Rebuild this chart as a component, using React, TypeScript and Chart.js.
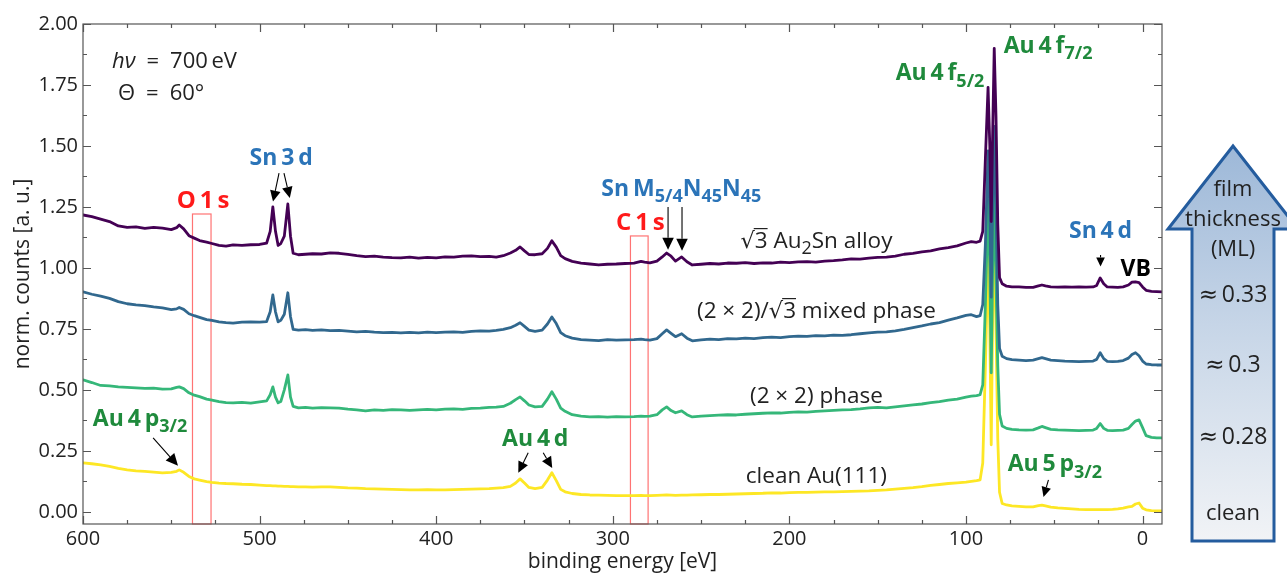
import { useEffect, useRef } from 'react';
import { Chart, registerables } from 'chart.js';

Chart.register(...registerables);

// Binding energy grid (eV), shared by all four spectra
const energies = [
  600, 595, 590, 585, 580, 575, 570, 565, 560, 555,
  550, 547, 545.5, 543, 540, 537, 534, 530, 527, 523,
  519, 515, 510, 505, 500, 496, 494, 492.5, 491, 489.5,
  488, 486, 484, 482.5, 481, 478, 474, 470, 465, 460,
  455, 450, 445, 440, 435, 430, 425, 420, 415, 410,
  405, 400, 395, 390, 385, 380, 375, 370, 366, 362,
  358, 355, 352.5, 350, 347.5, 344, 340, 337, 334.5, 332,
  329.5, 327, 323, 318, 313, 308, 303, 298, 293, 288,
  284, 282, 279, 275, 272, 269.5, 267, 264.5, 261, 258,
  255, 250, 245, 240, 235, 230, 225, 220, 215, 210,
  205, 200, 195, 190, 185, 180, 175, 170, 165, 160,
  155, 150, 145, 140, 135, 130, 125, 120, 115, 110,
  105, 100, 97, 94, 92, 90.5, 89, 87.5, 86.5, 85.7,
  84.9, 84, 83, 82, 81, 79.5, 77, 74, 70, 66,
  62, 59, 57, 55, 52, 48, 44, 40, 36, 32,
  28, 26, 24, 22, 20, 17, 14, 11, 8, 6,
  4, 2, 0, -2, -5, -8, -11,
];

// sqrt3 Au2Sn alloy
const alloy = [
  1.217, 1.210, 1.200, 1.190, 1.172, 1.166, 1.168, 1.162, 1.166, 1.163,
  1.157, 1.165, 1.176, 1.160, 1.132, 1.122, 1.112, 1.106, 1.100, 1.092,
  1.089, 1.094, 1.092, 1.095, 1.096, 1.102, 1.150, 1.250, 1.150, 1.092,
  1.100, 1.130, 1.262, 1.130, 1.060, 1.054, 1.056, 1.058, 1.057, 1.062,
  1.060, 1.055, 1.050, 1.046, 1.048, 1.044, 1.042, 1.041, 1.044, 1.040,
  1.043, 1.041, 1.045, 1.044, 1.048, 1.049, 1.046, 1.047, 1.044, 1.050,
  1.061, 1.072, 1.086, 1.070, 1.055, 1.054, 1.058, 1.080, 1.111, 1.085,
  1.050, 1.038, 1.027, 1.020, 1.016, 1.012, 1.015, 1.016, 1.018, 1.020,
  1.027, 1.024, 1.021, 1.028, 1.045, 1.061, 1.048, 1.028, 1.045, 1.025,
  1.012, 1.015, 1.018, 1.016, 1.020, 1.019, 1.022, 1.018, 1.021, 1.020,
  1.024, 1.022, 1.025, 1.026, 1.024, 1.028, 1.030, 1.033, 1.037, 1.036,
  1.040, 1.043, 1.044, 1.048, 1.056, 1.060, 1.066, 1.070, 1.078, 1.083,
  1.090, 1.102, 1.108, 1.105, 1.110, 1.150, 1.450, 1.740, 1.500, 1.190,
  1.550, 1.900, 1.620, 1.180, 0.960, 0.935, 0.925, 0.922, 0.922, 0.920,
  0.920, 0.926, 0.930, 0.926, 0.922, 0.921, 0.922, 0.921, 0.922, 0.921,
  0.922, 0.928, 0.959, 0.935, 0.922, 0.921, 0.920, 0.922, 0.930, 0.942,
  0.943, 0.940, 0.922, 0.908, 0.904, 0.903, 0.902,
];

// (2x2)/sqrt3 mixed phase
const mixed = [
  0.902, 0.892, 0.884, 0.875, 0.862, 0.853, 0.848, 0.845, 0.840, 0.836,
  0.829, 0.832, 0.838, 0.830, 0.812, 0.804, 0.797, 0.788, 0.785, 0.779,
  0.776, 0.774, 0.778, 0.779, 0.778, 0.780, 0.820, 0.889, 0.820, 0.779,
  0.785, 0.810, 0.898, 0.800, 0.748, 0.745, 0.747, 0.744, 0.746, 0.743,
  0.744, 0.741, 0.738, 0.740, 0.737, 0.735, 0.736, 0.734, 0.736, 0.734,
  0.737, 0.735, 0.737, 0.738, 0.736, 0.740, 0.742, 0.741, 0.744, 0.748,
  0.755, 0.765, 0.775, 0.760, 0.745, 0.740, 0.745, 0.770, 0.799, 0.772,
  0.735, 0.722, 0.712, 0.706, 0.704, 0.702, 0.706, 0.704, 0.705, 0.706,
  0.708, 0.706, 0.704, 0.710, 0.730, 0.746, 0.732, 0.718, 0.730, 0.712,
  0.701, 0.705, 0.708, 0.706, 0.710, 0.709, 0.712, 0.710, 0.714, 0.716,
  0.714, 0.718, 0.720, 0.719, 0.722, 0.721, 0.724, 0.723, 0.726, 0.730,
  0.734, 0.737, 0.738, 0.742, 0.748, 0.755, 0.762, 0.770, 0.776, 0.786,
  0.795, 0.805, 0.808, 0.800, 0.804, 0.850, 1.100, 1.480, 1.250, 0.880,
  1.250, 1.580, 1.250, 0.850, 0.670, 0.638, 0.628, 0.624, 0.622, 0.620,
  0.622, 0.628, 0.632, 0.628, 0.622, 0.620, 0.618, 0.617, 0.616, 0.617,
  0.618, 0.625, 0.652, 0.628, 0.617, 0.616, 0.617, 0.620, 0.630, 0.645,
  0.652, 0.640, 0.618, 0.606, 0.603, 0.602, 0.602,
];

// (2x2) phase
const phase22 = [
  0.541, 0.530, 0.518, 0.516, 0.512, 0.510, 0.508, 0.506, 0.507, 0.503,
  0.504, 0.510, 0.512, 0.505, 0.488, 0.478, 0.472, 0.462, 0.458, 0.452,
  0.448, 0.447, 0.449, 0.446, 0.451, 0.455, 0.480, 0.512, 0.470, 0.447,
  0.452, 0.500, 0.561, 0.470, 0.432, 0.426, 0.428, 0.425, 0.427, 0.426,
  0.425, 0.421, 0.418, 0.414, 0.418, 0.416, 0.419, 0.418, 0.416, 0.418,
  0.420, 0.418, 0.421, 0.422, 0.420, 0.424, 0.425, 0.428, 0.429, 0.432,
  0.445, 0.460, 0.471, 0.455, 0.438, 0.430, 0.432, 0.462, 0.492, 0.462,
  0.425, 0.412, 0.398, 0.392, 0.389, 0.390, 0.388, 0.390, 0.389, 0.390,
  0.392, 0.391, 0.392, 0.398, 0.418, 0.430, 0.415, 0.406, 0.414, 0.398,
  0.389, 0.392, 0.394, 0.396, 0.398, 0.397, 0.400, 0.402, 0.404, 0.406,
  0.405, 0.408, 0.410, 0.409, 0.412, 0.414, 0.416, 0.418, 0.419, 0.422,
  0.426, 0.428, 0.426, 0.430, 0.434, 0.438, 0.442, 0.448, 0.452, 0.458,
  0.462, 0.470, 0.474, 0.476, 0.480, 0.520, 0.850, 1.280, 1.000, 0.570,
  1.000, 1.320, 0.950, 0.600, 0.400, 0.352, 0.342, 0.338, 0.336, 0.335,
  0.336, 0.344, 0.350, 0.345, 0.338, 0.336, 0.335, 0.334, 0.333, 0.334,
  0.335, 0.342, 0.362, 0.342, 0.334, 0.333, 0.334, 0.335, 0.342, 0.358,
  0.372, 0.377, 0.345, 0.312, 0.305, 0.303, 0.303,
];

// clean Au(111)
const clean = [
  0.201, 0.197, 0.192, 0.186, 0.178, 0.172, 0.168, 0.166, 0.163, 0.160,
  0.162, 0.166, 0.172, 0.162, 0.145, 0.135, 0.130, 0.124, 0.121, 0.118,
  0.116, 0.115, 0.113, 0.112, 0.109, 0.107, 0.107, 0.106, 0.106, 0.105,
  0.105, 0.104, 0.104, 0.103, 0.103, 0.102, 0.102, 0.101, 0.102, 0.102,
  0.100, 0.098, 0.097, 0.095, 0.094, 0.093, 0.092, 0.091, 0.090, 0.090,
  0.091, 0.090, 0.090, 0.091, 0.092, 0.093, 0.094, 0.095, 0.097, 0.099,
  0.104, 0.118, 0.135, 0.118, 0.100, 0.095, 0.100, 0.130, 0.160, 0.128,
  0.092, 0.082, 0.075, 0.071, 0.069, 0.068, 0.067, 0.066, 0.066, 0.066,
  0.067, 0.066, 0.066, 0.067, 0.068, 0.069, 0.068, 0.067, 0.068, 0.068,
  0.069, 0.070, 0.071, 0.071, 0.072, 0.073, 0.074, 0.075, 0.076, 0.078,
  0.077, 0.079, 0.080, 0.080, 0.081, 0.082, 0.082, 0.083, 0.084, 0.085,
  0.086, 0.088, 0.090, 0.093, 0.096, 0.099, 0.103, 0.108, 0.112, 0.116,
  0.119, 0.122, 0.125, 0.128, 0.131, 0.200, 0.600, 1.050, 0.750, 0.275,
  0.800, 1.180, 0.750, 0.300, 0.080, 0.034, 0.028, 0.024, 0.022, 0.020,
  0.020, 0.025, 0.027, 0.024, 0.019, 0.016, 0.014, 0.012, 0.010, 0.009,
  0.009, 0.009, 0.009, 0.009, 0.009, 0.010, 0.012, 0.015, 0.020, 0.022,
  0.032, 0.036, 0.015, 0.008, 0.005, 0.004, 0.004,
];

const xTickValues = [600, 500, 400, 300, 200, 100, 0];
const yTickValues = [0, 0.25, 0.5, 0.75, 1.0, 1.25, 1.5, 1.75, 2.0];
const thicknessValues = ['0.33', '0.3', '0.28'];

const FAMILY = "'Open Sans', 'DejaVu Sans', sans-serif";
const MATH = "'DejaVu Sans', sans-serif";
const INK = '#222222';
const RED = '#ff1a1a';
const BLUE = '#2b74b8';
const GREEN = '#1f8a3c';

type Run = { t: string; sub?: boolean; it?: boolean; over?: boolean; math?: boolean };
type Note = { e: number; v: number; align: 'left' | 'center'; bold: boolean; color: string; size: number; runs: Run[] };

const SUB = 0.78;

const notes: Note[] = [
  { e: 583.6, v: 1.852, align: 'left', bold: false, color: INK, size: 22, runs: [{ t: 'h', it: true }, { t: 'ν', it: true }, { t: '\u2002=\u2002' }, { t: '700\u2009eV' }] },
  { e: 580.2, v: 1.721, align: 'left', bold: false, color: INK, size: 22, runs: [{ t: 'Θ' }, { t: '\u2002=\u2002' }, { t: '60°' }] },
  { e: 532, v: 1.279, align: 'center', bold: true, color: RED, size: 24, runs: [{ t: 'O\u20091\u2009s' }] },
  { e: 487.8, v: 1.455, align: 'center', bold: true, color: BLUE, size: 23, runs: [{ t: 'Sn\u20093\u2009d' }] },
  { e: 284.4, v: 1.189, align: 'center', bold: true, color: RED, size: 24, runs: [{ t: 'C\u20091\u2009s' }] },
  { e: 261.2, v: 1.328, align: 'center', bold: true, color: BLUE, size: 23, runs: [{ t: 'Sn\u2009M' }, { t: '5/4', sub: true }, { t: 'N' }, { t: '45', sub: true }, { t: 'N' }, { t: '45', sub: true }] },
  { e: 184.7, v: 1.115, align: 'center', bold: false, color: INK, size: 22.5, runs: [{ t: '√', math: true }, { t: '3', over: true }, { t: ' Au' }, { t: '2', sub: true }, { t: 'Sn alloy' }] },
  { e: 184.7, v: 0.828, align: 'center', bold: false, color: INK, size: 22.5, runs: [{ t: '(2 × 2)/' }, { t: '√', math: true }, { t: '3', over: true }, { t: ' mixed phase' }] },
  { e: 184.7, v: 0.48, align: 'center', bold: false, color: INK, size: 22.5, runs: [{ t: '(2 × 2) phase' }] },
  { e: 184.7, v: 0.152, align: 'center', bold: false, color: INK, size: 22.5, runs: [{ t: 'clean Au(111)' }] },
  { e: 343.9, v: 0.303, align: 'center', bold: true, color: GREEN, size: 23, runs: [{ t: 'Au\u20094\u2009d' }] },
  { e: 567.7, v: 0.385, align: 'center', bold: true, color: GREEN, size: 23, runs: [{ t: 'Au\u20094\u2009p' }, { t: '3/2', sub: true }] },
  { e: 114.7, v: 1.803, align: 'center', bold: true, color: GREEN, size: 23, runs: [{ t: 'Au\u20094\u2009f' }, { t: '5/2', sub: true }] },
  { e: 53.5, v: 1.914, align: 'center', bold: true, color: GREEN, size: 23, runs: [{ t: 'Au\u20094\u2009f' }, { t: '7/2', sub: true }] },
  { e: 23.8, v: 1.156, align: 'center', bold: true, color: BLUE, size: 23, runs: [{ t: 'Sn\u20094\u2009d' }] },
  { e: 3.9, v: 1.0, align: 'center', bold: true, color: '#000000', size: 23, runs: [{ t: 'VB' }] },
  { e: 49.7, v: 0.2, align: 'center', bold: true, color: GREEN, size: 23, runs: [{ t: 'Au\u20095\u2009p' }, { t: '3/2', sub: true }] },
];

// pointer arrows: [fromE, fromV, toE, toV, headLength]
const pointers: number[][] = [
  [489.0, 1.389, 492.4, 1.272, 11],
  [486.2, 1.389, 482.9, 1.287, 11],
  [268.7, 1.25, 268.7, 1.074, 12],
  [260.8, 1.25, 260.8, 1.07, 12],
  [347.9, 0.242, 353.5, 0.16, 11],
  [339.4, 0.242, 334.3, 0.18, 11],
  [560.3, 0.303, 546.2, 0.189, 12],
  [23.8, 1.053, 23.8, 1.006, 9],
  [53.3, 0.131, 56.1, 0.061, 10],
];

// excluded windows (red frames): [highE, lowE, topV]
const windows: number[][] = [
  [538, 527.5, 1.221],
  [290, 280, 1.131],
];

function runFont(r: Run, size: number, bold: boolean) {
  const s = r.sub ? Math.round(size * SUB) : size;
  return `${r.it ? 'italic ' : ''}${bold ? 700 : 400} ${s}px ${r.math ? MATH : FAMILY}`;
}

function drawRuns(ctx: CanvasRenderingContext2D, runs: Run[], x: number, yMid: number, size: number, bold: boolean, color: string, align: 'left' | 'center') {
  const widths = runs.map((r) => {
    ctx.font = runFont(r, size, bold);
    return ctx.measureText(r.t).width;
  });
  const total = widths.reduce((a, b) => a + b, 0);
  let cx = align === 'center' ? x - total / 2 : x;
  const base = yMid + size * 0.36;
  ctx.fillStyle = color;
  ctx.strokeStyle = color;
  ctx.textAlign = 'left';
  ctx.textBaseline = 'alphabetic';
  runs.forEach((r, i) => {
    ctx.font = runFont(r, size, bold);
    const dy = r.sub ? size * 0.27 : 0;
    ctx.fillText(r.t, cx, base + dy);
    if (r.over) {
      ctx.lineWidth = 1.2;
      ctx.beginPath();
      ctx.moveTo(cx - 1, base - size * 0.86);
      ctx.lineTo(cx + widths[i], base - size * 0.86);
      ctx.stroke();
    }
    cx += widths[i];
  });
}

function drawPointer(ctx: CanvasRenderingContext2D, x1: number, y1: number, x2: number, y2: number, head: number) {
  const ang = Math.atan2(y2 - y1, x2 - x1);
  const half = head * 0.48;
  const bx = x2 - head * Math.cos(ang);
  const by = y2 - head * Math.sin(ang);
  ctx.strokeStyle = '#000';
  ctx.fillStyle = '#000';
  ctx.lineWidth = 1.1;
  ctx.beginPath();
  ctx.moveTo(x1, y1);
  ctx.lineTo(bx, by);
  ctx.stroke();
  ctx.beginPath();
  ctx.moveTo(x2, y2);
  ctx.lineTo(bx + half * Math.sin(ang), by - half * Math.cos(ang));
  ctx.lineTo(bx - half * Math.sin(ang), by + half * Math.cos(ang));
  ctx.closePath();
  ctx.fill();
}

const decor = {
  id: 'xpsDecor',
  beforeDatasetsDraw(chart: any) {
    const { ctx, scales } = chart;
    const xs = scales.x;
    const ys = scales.y;
    ctx.save();
    ctx.strokeStyle = 'rgba(255, 40, 40, 0.65)';
    ctx.lineWidth = 1.2;
    windows.forEach(([e1, e2, top]) => {
      const x1 = xs.getPixelForValue(e1);
      const x2 = xs.getPixelForValue(e2);
      const y1 = ys.getPixelForValue(top);
      const y2 = chart.chartArea.bottom;
      ctx.strokeRect(x1, y1, x2 - x1, y2 - y1);
    });
    ctx.restore();
  },
  afterDraw(chart: any) {
    const { ctx, chartArea: a, scales } = chart;
    const xs = scales.x;
    const ys = scales.y;
    ctx.save();

    // frame and inward ticks on all four sides
    ctx.strokeStyle = '#555555';
    ctx.lineWidth = 1.2;
    ctx.strokeRect(a.left, a.top, a.right - a.left, a.bottom - a.top);
    ctx.beginPath();
    for (let e = 0; e <= 600; e += 25) {
      const px = Math.round(xs.getPixelForValue(e)) + 0.5;
      const len = e % 100 === 0 ? 8 : 4;
      ctx.moveTo(px, a.bottom);
      ctx.lineTo(px, a.bottom - len);
      ctx.moveTo(px, a.top);
      ctx.lineTo(px, a.top + len);
    }
    for (let i = 0; i <= 16; i++) {
      const py = Math.round(ys.getPixelForValue(i * 0.125)) + 0.5;
      const len = i % 2 === 0 ? 8 : 4;
      ctx.moveTo(a.left, py);
      ctx.lineTo(a.left + len, py);
      ctx.moveTo(a.right, py);
      ctx.lineTo(a.right - len, py);
    }
    ctx.stroke();

    // axis titles
    ctx.fillStyle = INK;
    ctx.font = `400 21px ${FAMILY}`;
    ctx.textAlign = 'center';
    ctx.textBaseline = 'middle';
    ctx.fillText('binding energy [eV]', (a.left + a.right) / 2, 562);
    ctx.save();
    ctx.translate(23, (a.top + a.bottom) / 2);
    ctx.rotate(-Math.PI / 2);
    ctx.fillText('norm. counts [a. u.]', 0, 0);
    ctx.restore();

    // annotations
    notes.forEach((n) => {
      drawRuns(ctx, n.runs, xs.getPixelForValue(n.e), ys.getPixelForValue(n.v), n.size, n.bold, n.color, n.align);
    });
    pointers.forEach(([e1, v1, e2, v2, h]) => {
      drawPointer(ctx, xs.getPixelForValue(e1), ys.getPixelForValue(v1), xs.getPixelForValue(e2), ys.getPixelForValue(v2), h);
    });

    // film thickness arrow to the right of the plot
    const cx = a.right + 71;
    const tipY = 146;
    const headY = 229;
    const baseY = 541;
    const shaftHalf = 41;
    const headHalf = 65;
    const grad = ctx.createLinearGradient(0, tipY, 0, baseY);
    grad.addColorStop(0, '#9db8d8');
    grad.addColorStop(0.45, '#c6d5e7');
    grad.addColorStop(1, '#f1f3f6');
    ctx.beginPath();
    ctx.moveTo(cx, tipY);
    ctx.lineTo(cx + headHalf, headY);
    ctx.lineTo(cx + shaftHalf, headY);
    ctx.lineTo(cx + shaftHalf, baseY);
    ctx.lineTo(cx - shaftHalf, baseY);
    ctx.lineTo(cx - shaftHalf, headY);
    ctx.lineTo(cx - headHalf, headY);
    ctx.closePath();
    ctx.fillStyle = grad;
    ctx.fill();
    ctx.strokeStyle = '#245c9e';
    ctx.lineWidth = 3;
    ctx.lineJoin = 'miter';
    ctx.stroke();

    ctx.fillStyle = INK;
    ctx.font = `400 22px ${FAMILY}`;
    ctx.textAlign = 'center';
    ctx.textBaseline = 'middle';
    ctx.fillText('film', cx, 190);
    ctx.fillText('thickness', cx, 220);
    ctx.fillText('(ML)', cx, 250);
    ctx.fillText('clean', cx, 514);
    const rows = [294, 364, 436];
    thicknessValues.forEach((t, i) => {
      drawRuns(ctx, [{ t: '≈', math: true }, { t: '\u2009' + t }], cx, rows[i], 23, false, INK, 'center');
    });

    ctx.restore();
  },
};

export default function App() {
  const canvasRef = useRef<HTMLCanvasElement>(null);

  useEffect(() => {
    const toPoints = (vals: number[]) => energies.map((e, i) => ({ x: e, y: vals[i] }));
    const line = (label: string, vals: number[], color: string) => ({
      label,
      data: toPoints(vals),
      borderColor: color,
      backgroundColor: color,
      borderWidth: 2.8,
      pointRadius: 0,
      tension: 0,
      borderJoinStyle: 'round' as const,
      borderCapStyle: 'round' as const,
    });

    const chart = new Chart(canvasRef.current as HTMLCanvasElement, {
      type: 'line',
      data: {
        datasets: [
          line('√3 Au2Sn alloy', alloy, '#440154'),
          line('(2×2)/√3 mixed phase', mixed, '#31688e'),
          line('(2×2) phase', phase22, '#35b779'),
          line('clean Au(111)', clean, '#fde725'),
        ],
      },
      options: {
        animation: false,
        responsive: true,
        maintainAspectRatio: false,
        layout: { padding: { left: 0, right: 125, top: 24, bottom: 0 } },
        plugins: { legend: { display: false }, tooltip: { enabled: false } },
        scales: {
          x: {
            type: 'linear',
            reverse: true,
            min: -11,
            max: 600,
            grid: { display: false, drawTicks: false },
            border: { display: false },
            afterBuildTicks: (s: any) => {
              s.ticks = xTickValues.map((v) => ({ value: v }));
            },
            afterFit: (s: any) => {
              s.height = 51;
            },
            ticks: {
              padding: 3,
              autoSkip: false,
              maxRotation: 0,
              color: INK,
              font: { family: FAMILY, size: 20 },
              callback: (v: any) => String(v),
            },
          },
          y: {
            type: 'linear',
            min: -0.05,
            max: 2.0,
            grid: { display: false, drawTicks: false },
            border: { display: false },
            afterBuildTicks: (s: any) => {
              s.ticks = yTickValues.map((v) => ({ value: v }));
            },
            afterFit: (s: any) => {
              s.width = 83;
            },
            ticks: {
              padding: 5,
              color: INK,
              font: { family: FAMILY, size: 20 },
              callback: (v: any) => Number(v).toFixed(2),
            },
          },
        },
      },
      plugins: [decor],
    });

    return () => chart.destroy();
  }, []);

  return (
    <div style={{ position: 'fixed', left: 0, top: 0, width: 1287, height: 575, background: '#ffffff' }}>
      <canvas ref={canvasRef} />
    </div>
  );
}
